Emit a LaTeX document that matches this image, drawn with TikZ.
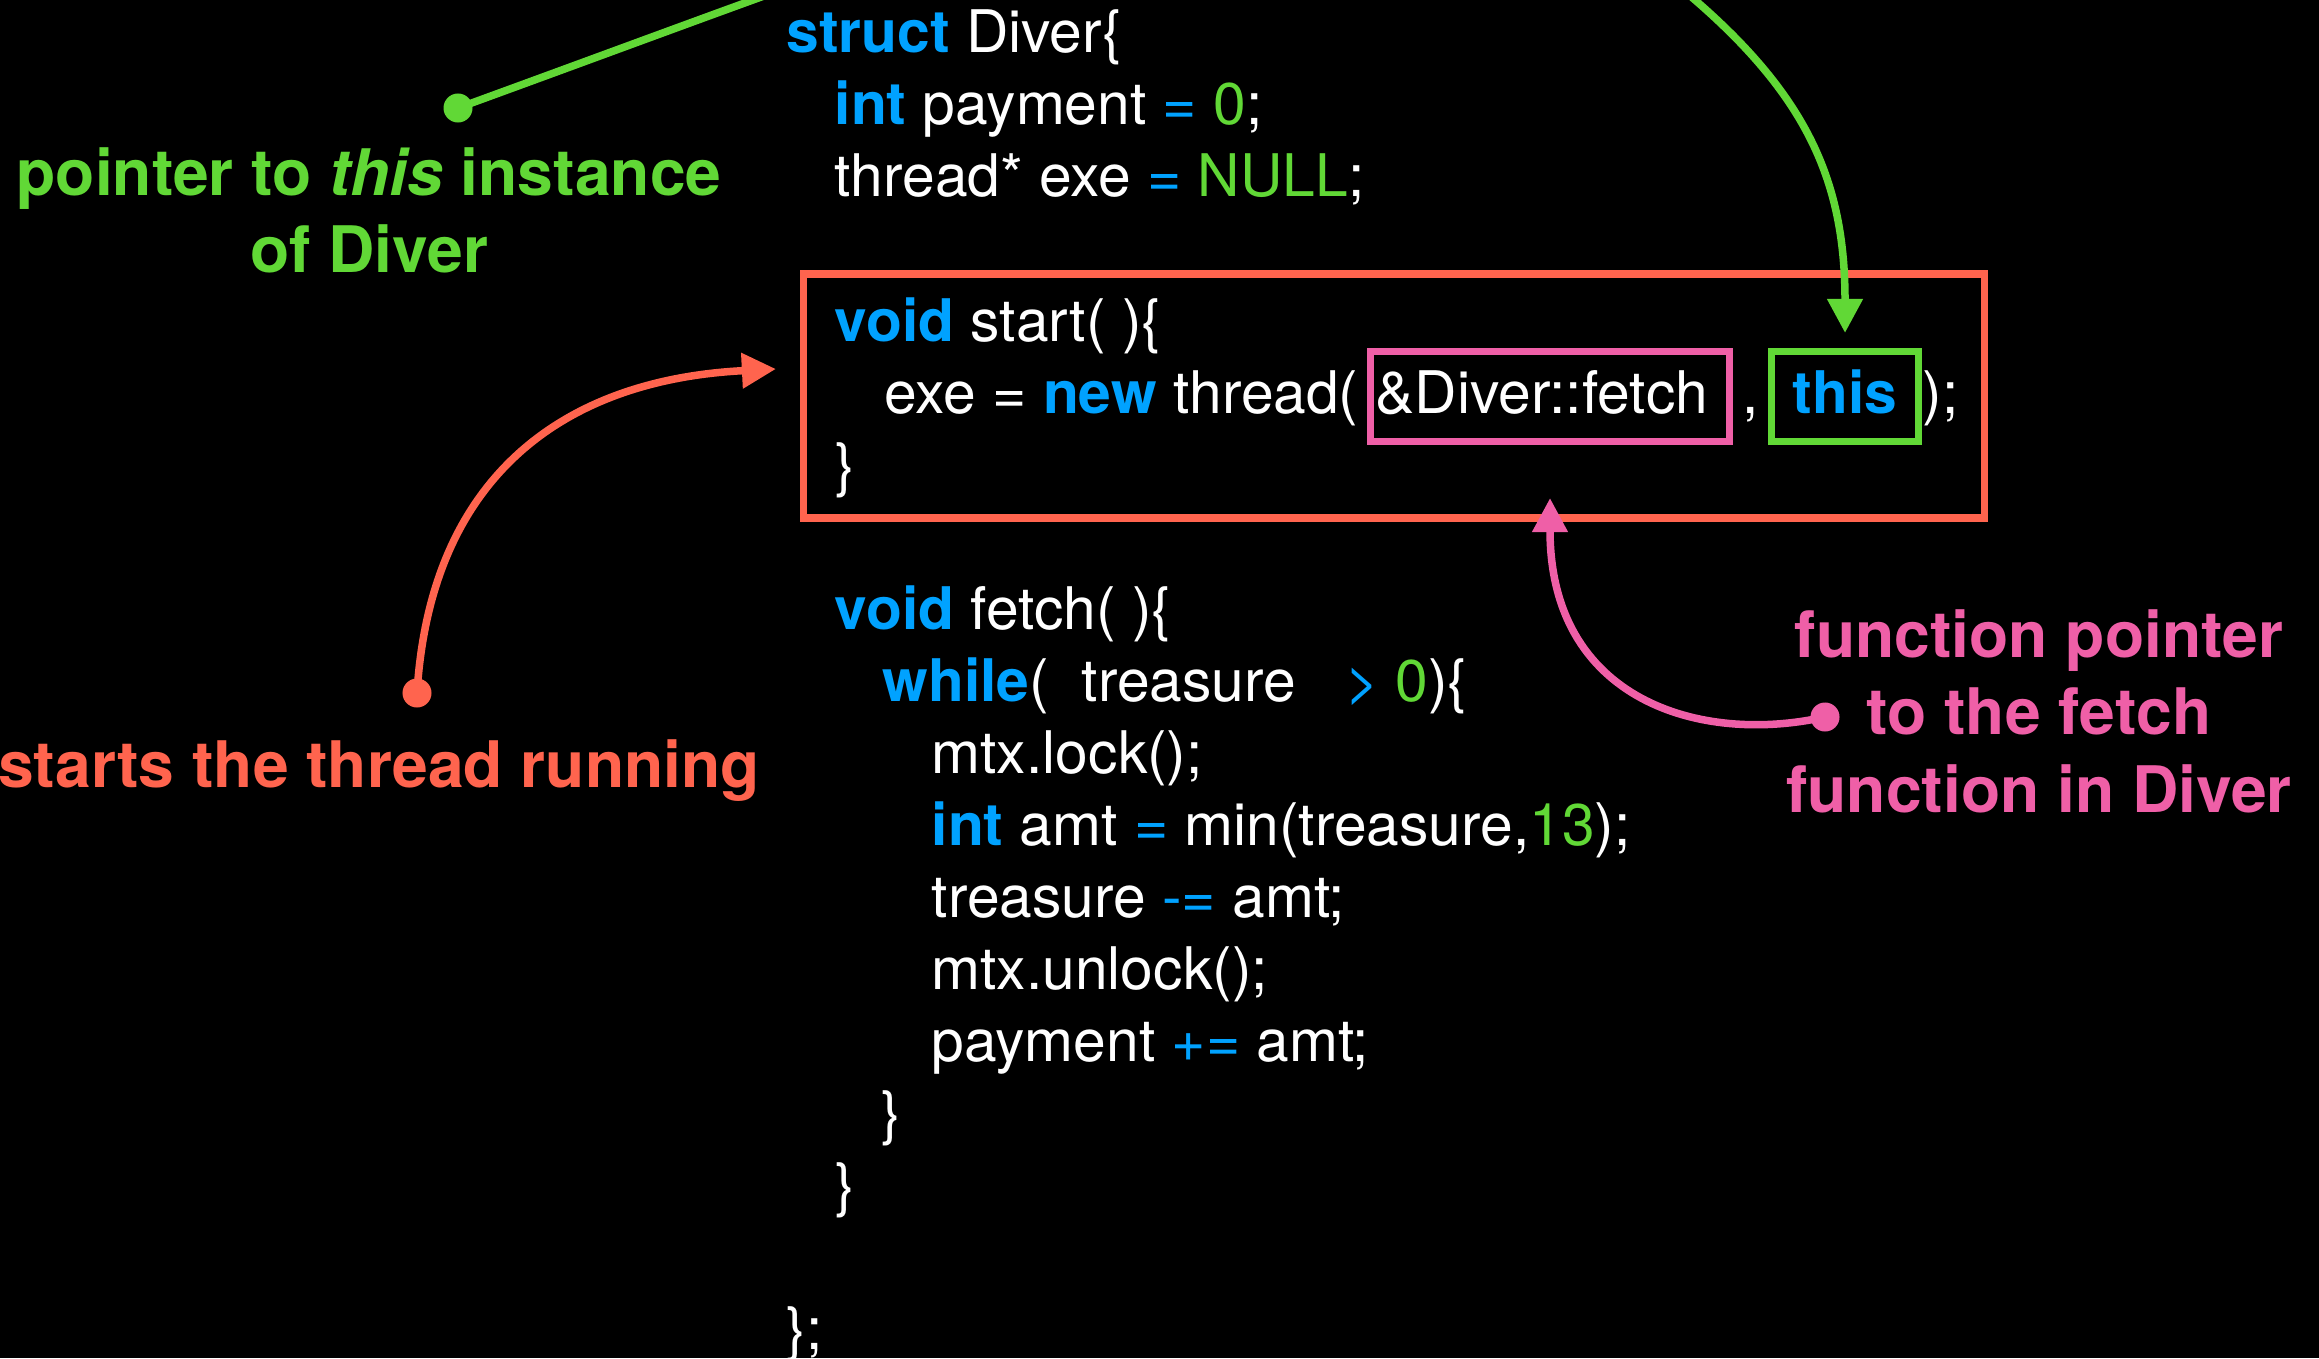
\documentclass[tikz,border=0pt]{standalone}
\usepackage{fontspec}
\setmainfont{TeX Gyre Heros}
\usetikzlibrary{arrows.meta}
\definecolor{kblue}{HTML}{00A2FF}
\definecolor{kgreen}{HTML}{61D836}
\definecolor{korange}{HTML}{FF644E}
\definecolor{kpink}{HTML}{EF5FA7}
\newcommand\kwd[1]{\textcolor{kblue}{\bfseries #1}}
\newcommand\opr[1]{\textcolor{kblue}{#1}}
\newcommand\lit[1]{\textcolor{kgreen}{#1}}
\begin{document}
\begin{tikzpicture}[x=0.01cm, y=-0.01cm,
  code/.style={anchor=base west, inner sep=0pt, text=white, font=\fontsize{16.7}{20}\selectfont},
  lbl/.style={align=center, inner sep=0pt, anchor=base, font=\fontsize{18.25}{21.9}\selectfont\bfseries},
  dotnode/.style={circle, inner sep=0pt, minimum size=0.29cm},
  conn/.style={line width=0.075cm, -{Triangle[length=0.34cm, width=0.34cm]}},
  argbox/.style={inner sep=0pt, anchor=base, line width=0.07cm, text height=0.61cm, text depth=0.28cm, text=white, font=\fontsize{16.7}{20}\selectfont}
  ]
\fill[black] (0,0) rectangle (2319,1358);
\clip (0,0) rectangle (2319,1358);

% code
\node[code] (l1) at (786,53) {\kwd{struct} Diver\{};
\node[code] (l2) at (834,125) {\kwd{int} payment \opr{=} \lit{0};};
\node[code] (l3) at (834,197) {thread* exe \opr{=} \lit{NULL};};
\node[code] (l4) at (834,341) {\kwd{void} start( )\{};
\node[code] (l5) at (884,413) {exe = \kwd{new} thread(};
\node[argbox, draw=kpink, minimum width=3.58cm] (fetchbox) at (1550,413) {\&Diver::fetch\ \ };
\node[code] (comma) at (1742,413) {,};
\node[argbox, draw=kgreen, minimum width=1.46cm] (thisbox) at (1845,413) {\kwd{this}};
\node[code] (closep) at (1922,413) {);};
\node[code] (l6) at (835,485) {\}};
\node[code] (l7) at (834,629) {\kwd{void} fetch( )\{};
\node[code] (l8) at (882,701) {\kwd{while}(\ \ treasure\ \ \ \opr{>} \lit{0})\{};
\node[code] (l9) at (931,773) {mtx.lock();};
\node[code] (l10) at (931,845) {\kwd{int} amt \opr{=} min(treasure,\lit{13});};
\node[code] (l11) at (931,917) {treasure \opr{-=} amt;};
\node[code] (l12) at (931,989) {mtx.unlock();};
\node[code] (l13) at (931,1061) {payment \opr{+=} amt;};
\node[code] (l14) at (881,1133) {\}};
\node[code] (l15) at (835,1205) {\}};
\node[code] (l16) at (786,1349) {\};};

% highlight box
\node[draw=korange, line width=0.075cm, minimum width=11.8cm, minimum height=2.44cm, inner sep=0pt] (startbox) at (1394,396) {};

% labels (anchor base = last line)
\node[lbl, text=kgreen] (lthis) at (369,273) {pointer to \textit{this} instance\\of Diver};
\node[lbl, text=korange] (lstart) at (379,787) {starts the thread running};
\node[lbl, text=kpink] (lfetch) at (2039,812) {function pointer\\to the fetch\\function in Diver};

% dots
\node[dotnode, fill=kgreen] (gdot) at (458,108) {};
\node[dotnode, fill=korange] (odot) at (417,693) {};
\node[dotnode, fill=kpink] (pdot) at (1825,717) {};

% connectors
\draw[conn, kgreen, shorten >=0.155cm] (gdot.center) .. controls (1210,-166) and (1393,-262) .. (1695,0) .. controls (1808,98) and (1845,183) .. (thisbox.north);
\draw[conn, korange] (odot.center) .. controls (430,480) and (560,380) .. ([xshift=-0.24cm, yshift=0.27cm]startbox.west);
\draw[conn, kpink, shorten >=0.535cm] (pdot.center) .. controls (1700,745) and (1550,700) .. (fetchbox.south);
\end{tikzpicture}
\end{document}
